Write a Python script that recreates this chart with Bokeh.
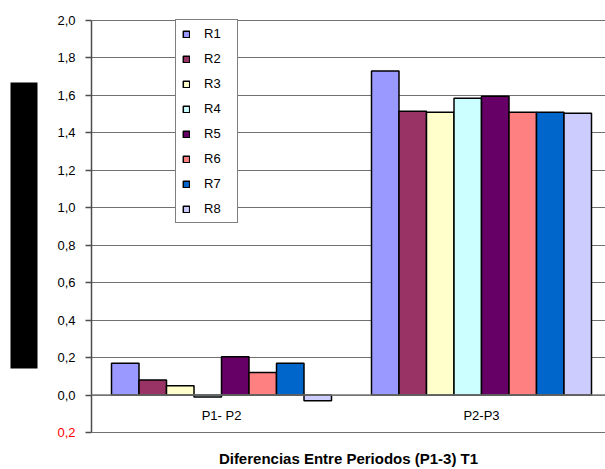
from bokeh.plotting import figure
from bokeh.layouts import row
from bokeh.models import (FixedTicker, Span, Legend, LegendItem, LinearAxis, Range1d,
                          CustomLabelingPolicy)
from bokeh.embed import file_html
from bokeh.resources import INLINE
from bokeh.core.properties import value

# ---- data ----
categories = ["P1- P2", "P2-P3"]
series = ["R1", "R2", "R3", "R4", "R5", "R6", "R7", "R8"]
R1 = [0.17, 1.73]
R2 = [0.08, 1.515]
R3 = [0.05, 1.51]
R4 = [-0.01, 1.585]
R5 = [0.205, 1.595]
R6 = [0.12, 1.51]
R7 = [0.17, 1.51]
R8 = [-0.03, 1.505]
values = [R1, R2, R3, R4, R5, R6, R7, R8]
colors = ["#9999FF", "#993366", "#FFFFCC", "#CCFFFF", "#660066", "#FF8080", "#0066CC", "#CCCCFF"]
y_ticks = [-0.2, 0.0, 0.2, 0.4, 0.6, 0.8, 1.0, 1.2, 1.4, 1.6, 1.8, 2.0]
y_tick_labels = ["0,2", "0,0", "0,2", "0,4", "0,6", "0,8", "1,0", "1,2", "1,4", "1,6", "1,8", "2,0"]
x_title = "Diferencias Entre Periodos (P1-3) T1"

FONT_NAME = "Liberation Sans"
W, H = 605, 469
SIDE_W = 80            # left strip: black block + tick labels
LEFT = 91              # x of the value axis
AX_TOP, AX_BOTTOM = 20, 432   # pixel rows of the top / bottom tick
PAD = 8                # extra frame room above/below the ticks
TOP, BOTTOM = AX_TOP - PAD, H - AX_BOTTOM - PAD
CAT_PX = 260.0

y_lo, y_hi = y_ticks[0], y_ticks[-1]
px_per_unit = (AX_BOTTOM - AX_TOP) / (y_hi - y_lo)
y_pad = PAD / px_per_unit
y_range = Range1d(y_lo - y_pad, y_hi + y_pad)

# ---- main chart ----
p = figure(width=W - SIDE_W, height=H, output_backend="svg", toolbar_location=None,
           x_range=Range1d(0, (W - LEFT) / CAT_PX), y_range=y_range,
           x_axis_location=None,
           min_border_left=LEFT - SIDE_W, min_border_right=0, min_border_top=TOP,
           min_border_bottom=BOTTOM)
p.outline_line_color = None
p.background_fill_color = "white"

ax = p.yaxis[0]
ax.ticker = FixedTicker(ticks=y_ticks)
ax.bounds = (y_lo, y_hi)
ax.axis_line_color = "#4d4d4d"
ax.axis_line_width = 1.5
ax.major_tick_line_color = "#4d4d4d"
ax.major_tick_line_width = 1.5
ax.major_tick_in = 0
ax.major_tick_out = 6
ax.minor_tick_line_color = None
ax.major_label_standoff = 0
ax.major_label_text_font_size = "1px"
# tick labels are drawn in the left strip (one of them in red), so hide them here
ax.major_label_policy = CustomLabelingPolicy(code="""
    const n = indices.size
    for (let i = 0; i < n; i++) { indices.unset(i) }
    return indices
""")

# bottom axis carrying only the title
xax = LinearAxis(ticker=FixedTicker(ticks=[]), axis_label=x_title)
xax.axis_line_color = None
xax.major_tick_line_color = None
xax.minor_tick_line_color = None
xax.major_label_text_font_size = "0px"
xax.major_label_standoff = 0
xax.axis_label_standoff = 9
xax.axis_label_text_font = FONT_NAME
xax.axis_label_text_font_size = "15px"
xax.axis_label_text_font_style = "bold"
xax.axis_label_text_color = "black"
p.add_layout(xax, "below")

p.xgrid.visible = False
p.ygrid.ticker = FixedTicker(ticks=y_ticks)
p.ygrid.grid_line_color = "#707070"
p.ygrid.grid_line_width = 1

# bars
n = len(series)
group_frac = 220.0 / CAT_PX
bw = group_frac / n
items = []
for i, (s, vals, c) in enumerate(zip(series, values, colors)):
    xs = [k + 0.5 - group_frac / 2 + bw * (i + 0.5) for k in range(len(categories))]
    r = p.vbar(x=xs, top=vals, bottom=0, width=bw, fill_color=c, line_color="black", line_width=1.5)
    items.append(LegendItem(label=s, renderers=[r]))

p.add_layout(Span(location=0, dimension="width", line_color="#777777", line_width=1.5))

# category labels
p.text(x=[k + 0.5 for k in range(len(categories))], y=[-0.11] * len(categories), text=categories,
       text_align="center", text_baseline="middle", text_font=value(FONT_NAME), text_font_size="13px",
       text_color="black")

legend = Legend(items=items, location=(84, H - BOTTOM - 223), orientation="vertical")
legend.border_line_color = "black"
legend.border_line_width = 1
legend.background_fill_color = "white"
legend.background_fill_alpha = 1
legend.glyph_width = 8
legend.glyph_height = 8
legend.label_standoff = 14
legend.label_text_font = FONT_NAME
legend.label_text_font_size = "13px"
legend.label_text_color = "black"
legend.label_height = 15
legend.label_width = 27
legend.spacing = 10
legend.padding = 6
legend.margin = 0
p.add_layout(legend)

# ---- left strip: black block + tick labels (shares the value range) ----
side = figure(width=SIDE_W, height=H, output_backend="svg", toolbar_location=None,
              x_range=Range1d(0, SIDE_W), y_range=y_range,
              x_axis_location=None, y_axis_location=None,
              min_border_left=0, min_border_right=0, min_border_top=TOP, min_border_bottom=BOTTOM)
side.outline_line_color = None
side.grid.visible = False
side.extra_y_ranges = {"px": Range1d(H - BOTTOM, TOP)}
side.quad(left=[10], right=[37], top=[82], bottom=[368], y_range_name="px",
          fill_color="black", line_color=None)
label_colors = ["red" if t < 0 else "black" for t in y_ticks]
side.text(x=[75] * len(y_ticks), y=y_ticks, text=y_tick_labels, text_color=label_colors,
          text_align="right", text_baseline="middle", text_font=value(FONT_NAME),
          text_font_size="13px")

layout = row(side, p, spacing=0)
open("out.html", "w").write(file_html(layout, INLINE))
